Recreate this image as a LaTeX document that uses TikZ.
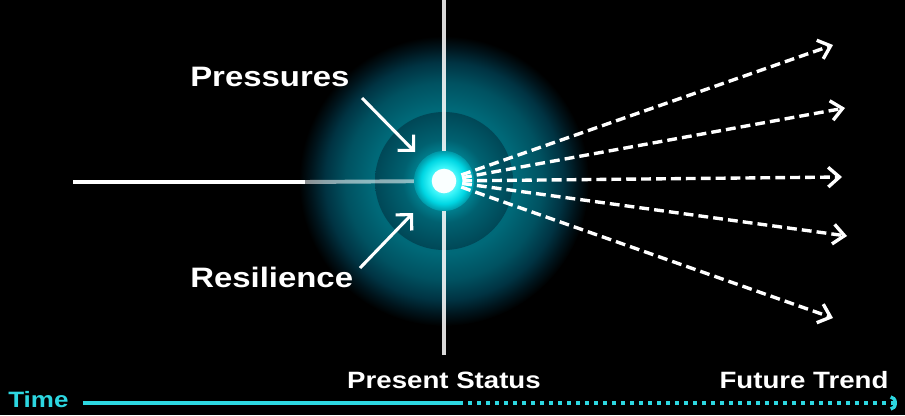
\documentclass[tikz,border=0pt]{standalone}
\usepackage{fontspec}
\setmainfont{Liberation Sans}
\newfontfamily\widesans{Liberation Sans}[FakeStretch=1.17]
\usepackage{xcolor}
\usepackage{tikz}
\usetikzlibrary{arrows.meta}
\definecolor{timecyan}{RGB}{45,215,225}
\definecolor{hubwhite}{RGB}{250,255,255}
\pgfdeclareradialshading{outerglow}{\pgfpointorigin}{rgb(0bp)=(0,.47,.53); rgb(12.5bp)=(0,.41,.47); rgb(17bp)=(0,.32,.38); rgb(20.5bp)=(0,.2,.26); rgb(23bp)=(0,.08,.11); rgb(25bp)=(0,0,0); rgb(50bp)=(0,0,0)}
\pgfdeclareradialshading{innerglow}{\pgfpointorigin}{rgb(0bp)=(.6,1,1); rgb(7bp)=(0,.66,.72); rgb(10.5bp)=(0,.5,.56); rgb(15bp)=(0,.38,.44); rgb(25bp)=(0,.28,.34); rgb(50bp)=(0,.28,.34)}
\pgfdeclareradialshading{coreglow}{\pgfpointorigin}{rgb(0bp)=(.85,1,1); rgb(12.5bp)=(.2,.95,.97); rgb(19bp)=(0,.84,.89); rgb(25bp)=(0,.6,.66); rgb(50bp)=(0,.6,.66)}
\tikzset{
  tag/.style={
    text=white,
    inner sep=0pt,
    font=\widesans\bfseries\fontsize{20}{22}\selectfont
  },
  marker/.style={
    text=white,
    inner sep=0pt,
    font=\widesans\bfseries\fontsize{16.8}{18}\selectfont
  },
  hub/.style={circle, fill=hubwhite, minimum size=17.5pt, inner sep=0pt},
  track/.style={white, line width=2.8pt},
  stem/.style={white, line width=2.2pt},
  force/.style={white, line width=2.2pt, -{Straight Barb[length=8pt,width=16pt]}},
  trend/.style={white, line width=2.4pt, dash pattern=on 7pt off 3.6pt, -{Straight Barb[length=8pt,width=14pt]}},
  axis/.style={timecyan, line width=2.4pt},
  dotaxis/.style={timecyan, line width=2.4pt, dash pattern=on 3pt off 3.4pt, -{Arc Barb[length=4.5pt,width=11pt]}}
}
\begin{document}
\begin{tikzpicture}[x=0.025cm, y=-0.025cm]
\path[use as bounding box, fill=black] (0,0) rectangle (905,415);

\coordinate (c) at (444,181);
\coordinate (past) at (73,182);
\coordinate (glowedge) at (305,182);
\coordinate (top) at (444,0);
\coordinate (bottom) at (444,355);
\coordinate (pfrom) at (362,98);
\coordinate (pto) at (415,152);
\coordinate (rfrom) at (360,268);
\coordinate (rto) at (413,213);
\coordinate (f1) at (833,45);
\coordinate (f2) at (845,108);
\coordinate (f3) at (842,177);
\coordinate (f4) at (847,236);
\coordinate (f5) at (833,318);
\coordinate (tsplit) at (459,403);
\coordinate (tend) at (897,403);

\shade[shading=outerglow] (c) circle (145);
\shade[shading=innerglow] (c) circle (69);

\draw[track] (past) -- (glowedge);
\draw[track, opacity=0.55] (glowedge) -- (c);
\draw[stem, opacity=0.85] (top) -- (bottom);

\draw[force] (pfrom) -- (pto);
\draw[force] (rfrom) -- (rto);

\shade[shading=coreglow] (c) circle (30);

\foreach \f in {f1,f2,f3,f4,f5}
  \draw[trend, shorten <=13pt] (c) -- (\f);

\node[hub] (core) at (c) {};

\node[tag, anchor=west] (pressures) at (190,77) {Pressures};
\node[tag, anchor=west] (resilience) at (190,277) {Resilience};

\node[marker] (present) at (444,380) {Present Status};
\node[marker] (future) at (804,380) {Future Trend};
\node[marker, text=timecyan, anchor=west, font=\widesans\bfseries\fontsize{15.8}{17}\selectfont] (time) at (8,400) {Time};

\draw[axis, shorten <=10pt] (time.east |- tsplit) -- (tsplit);
\draw[dotaxis] (tsplit) -- (tend);
\end{tikzpicture}
\end{document}
